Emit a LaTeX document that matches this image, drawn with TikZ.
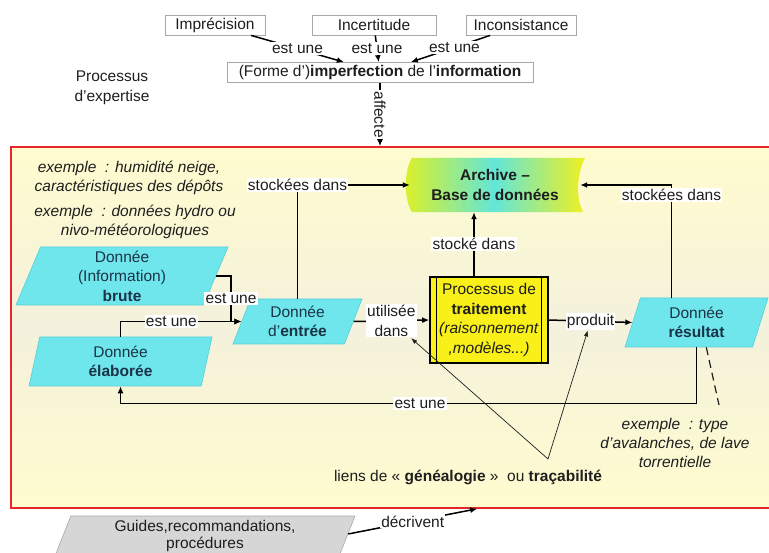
\documentclass[tikz,border=0pt]{standalone}
\usepackage{fontspec}
\setmainfont{Liberation Sans}
\usetikzlibrary{arrows.meta,positioning,calc,shapes.geometric,backgrounds}
\definecolor{inkDark}{HTML}{1E1E1E}
\definecolor{inkNavy}{HTML}{1C3347}
\definecolor{lineGrey}{HTML}{A8A8A8}
\definecolor{dataFill}{HTML}{6EE6EC}
\definecolor{dataEdge}{HTML}{55CFD8}
\definecolor{procFill}{HTML}{F8F018}
\definecolor{frameEdge}{HTML}{E8262A}
\definecolor{frameFill}{HTML}{FFFCCF}
\definecolor{frameMid}{HTML}{F4F1DC}
\definecolor{archLeft}{HTML}{DDF028}
\definecolor{archMid}{HTML}{62E6D8}
\definecolor{archRight}{HTML}{F0F020}
\definecolor{guideFill}{HTML}{D6D6D6}

\begin{document}
\begin{tikzpicture}[x=1pt, y=-1pt,
  font=\fontsize{15.5}{19.5}\selectfont,
  term/.style={
    rectangle, draw=lineGrey, fill=white, line width=0.8pt,
    inner sep=2pt, minimum height=20pt, text=inkDark},
  data/.style={
    trapezium, trapezium left angle=65, trapezium right angle=115,
    trapezium stretches body, draw=dataEdge, fill=dataFill, line width=0.6pt,
    align=center, text=inkNavy, inner sep=1pt},
  guide/.style={data, fill=guideFill, draw=lineGrey, text=inkDark,
    font=\fontsize{15.5}{17.5}\selectfont},
  proc/.style={
    rectangle, draw=black, fill=procFill, line width=1.6pt, align=center,
    minimum width=118pt, minimum height=86pt, inner sep=0pt, text=inkDark},
  archive/.style={
    rectangle, align=center, minimum width=170pt, minimum height=54pt,
    font=\fontsize{15.5}{19.5}\selectfont\bfseries, text=inkDark},
  frame/.style={
    rectangle, draw=frameEdge, line width=1.6pt, top color=frameFill,
    bottom color=frameFill, middle color=frameMid},
  example/.style={align=center, font=\fontsize{15.5}{19}\selectfont\itshape, text=inkDark},
  plain/.style={align=center, text=inkDark},
  flow/.style={-{Latex[length=7pt,width=6pt]}, line width=1.5pt, draw=black},
  trace/.style={-{Latex[length=6pt,width=4.5pt]}, line width=0.7pt, draw=inkDark},
  bar/.style={line width=1.2pt, draw=black},
  dashline/.style={line width=1.2pt, draw=inkDark, dash pattern=on 8pt off 5pt},
  lbl/.style={fill=white, inner sep=1.2pt, text=inkDark, align=center},
]
\useasboundingbox (0,0) rectangle (769,553);

% =============================== frame =====================================
\begin{scope}[on background layer]
  \node[frame, minimum width=762pt, minimum height=361pt] at (392,327.5) (frame) {};
\end{scope}

% =============================== nodes =====================================
\node[term, minimum width=100pt] at (215,25)   (impr)   {Imprécision};
\node[term, minimum width=124pt] at (374,25)   (incert) {Incertitude};
\node[term, minimum width=110pt] at (521,25)   (incons) {Inconsistance};
\node[term, minimum width=306pt] at (380,72.5) (imperf)
  {(Forme d')\textbf{imperfection} de l'\textbf{information}};

\node[plain] at (112,88) (expert) {Processus\\d'expertise};

\node[example] at (129,178) (exSnow)  {exemple~~: humidité neige,\\caractéristiques des dépôts};
\node[example] at (135,222) (exHydro) {exemple~~: données hydro ou\\nivo-météorologiques};
\node[example] at (675,443) (exType)  {exemple~~: type\\d'avalanches, de lave\\torrentielle};

\node[data, minimum width=212pt, minimum height=58pt] at (122,276) (brute)
  {Donnée\\(Information)\\\textbf{brute}};
\node[data, minimum width=183pt, minimum height=49pt,
  trapezium left angle=72, trapezium right angle=108] at (120.5,361.5) (elab)
  {Donnée\\\textbf{élaborée}};
\node[data, minimum width=129pt, minimum height=45pt,
  trapezium left angle=62, trapezium right angle=118] at (297.5,321.5) (entree)
  {Donnée\\d'\textbf{entrée}};
\node[data, minimum width=143pt, minimum height=49pt] at (696.5,322.5) (result)
  {Donnée\\\textbf{résultat}};

\node[proc] at (489,320) (proc)
  {Processus de\\\textbf{traitement}\\\textit{(raisonnement}\\\textit{,modèles...)}};
\draw[bar] ([xshift=7pt]proc.north west) -- ([xshift=7pt]proc.south west);
\draw[bar] ([xshift=-7pt]proc.north east) -- ([xshift=-7pt]proc.south east);

\node[archive] at (495,185) (arch) {Archive --\\Base de données};
\begin{scope}[on background layer]
  \shade[left color=archLeft, right color=archRight, middle color=archMid]
    ($(arch.north west)+(2,0)$) -- ($(arch.north east)+(5,0)$)
    .. controls +(-8,14) and +(-8,-14) .. ($(arch.south east)+(3,0)$)
    -- ($(arch.south west)+(2,0)$)
    .. controls +(-8,-14) and +(-8,14) .. ($(arch.north west)+(2,0)$) -- cycle;
\end{scope}

\node[guide, minimum width=300pt, minimum height=40pt] at (205,536) (guides)
  {Guides,recommandations,\\procédures};

\node[plain] at (468,477) (genLbl)
  {liens de « \textbf{généalogie} »~~ou \textbf{traçabilité}};

\coordinate (genApex)   at (548,459);
\coordinate (exTip)     at (719,405);
\coordinate (storeFoot) at ([xshift=-15pt]proc.north);
\coordinate (resTop)    at ([xshift=-25pt]result.center |- result.north);

% =============================== flows =====================================
% kinds of imperfection
\draw[flow] (impr)   -- node[lbl]{est une} (imperf);
\draw[flow] (incert) -- node[lbl]{est une} (imperf);
\draw[flow] (incons) -- node[lbl, pos=0.45]{est une} (imperf);

% imperfection -> expertise frame
\draw[flow] (imperf) -- node[lbl, rotate=-90]{affecte} (imperf |- frame.north);

% input data
\draw[flow] (brute.east) -- ++(15,0) |- node[lbl, pos=0.25]{est une} (entree.west);
\draw[flow] (elab.north) |- node[lbl, pos=0.71]{est une} (entree.west);
\draw[flow] (entree.east) -- node[lbl] (util) {utilisée\\dans} (proc.west);
\draw[flow] (proc.east) -- node[lbl] (prodLbl) {produit} (result.west);

% storage in the archive
\draw[flow] (entree.north) |- node[lbl]{stockées dans} (arch.west);
\draw[flow] (storeFoot) -- node[lbl]{stocké dans} (storeFoot |- arch.south);
\draw[flow] (resTop) |- node[lbl, pos=0.455]{stockées dans} (arch.east);

% result fed back as processed data
\draw[flow] (result.south) -- ++(0,56) -| node[lbl, pos=0.24]{est une} (elab.south);
\draw[dashline] ([xshift=-15pt]result.south east) -- (exTip);

% genealogy links
\draw[trace] (genApex) -- (util);
\draw[trace] (genApex) -- (prodLbl);

% guides
\draw[flow] ($(guides.top right corner)!0.45!(guides.bottom right corner)$)
  -- node[lbl, pos=0.5]{décrivent} ($(frame.south west)+(467,0)$);

\end{tikzpicture}
\end{document}
